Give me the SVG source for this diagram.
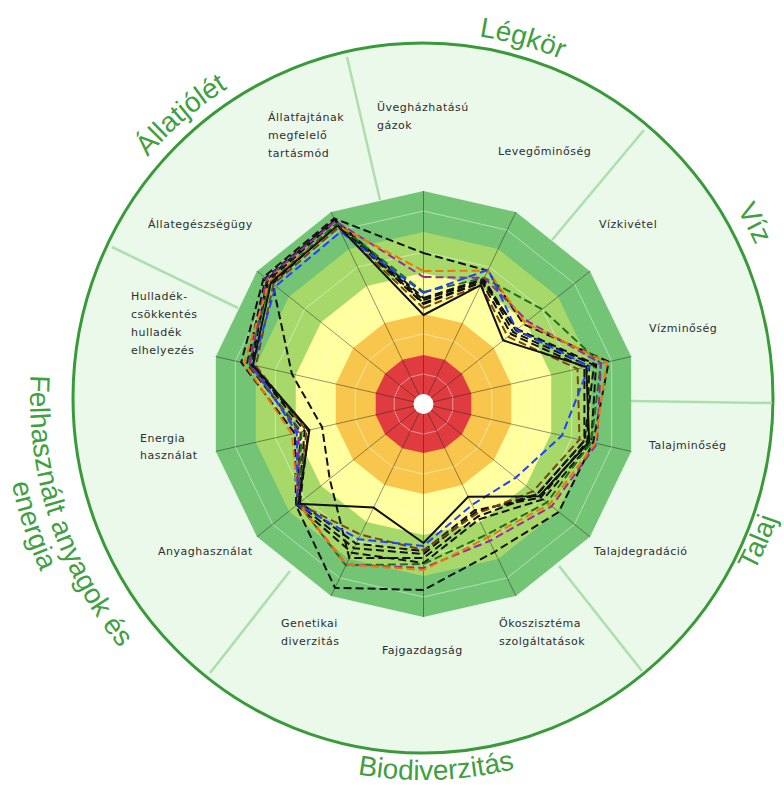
<svg xmlns="http://www.w3.org/2000/svg" width="784" height="786" viewBox="0 0 784 786">
<style>
.cat{font-family:"Liberation Sans",Arial,sans-serif;font-size:28px;fill:#3fa03f}
.lbl{font-family:"DejaVu Sans",Verdana,sans-serif;font-size:11px;fill:#2e2e2e;letter-spacing:0.5px}
.div{stroke:#addfad;stroke-width:2.5;fill:none}
.ax{stroke:#222;stroke-opacity:0.6;stroke-width:0.8;fill:none}
.grid{fill:none;stroke:#fff;stroke-opacity:0.45;stroke-width:1}
.s{fill:none;stroke-width:2;stroke-linejoin:miter}
.d{stroke-dasharray:8 4}
</style>
<defs>
<polygon id="u14" vector-effect="non-scaling-stroke" points="0,-1 0.43388,-0.90097 0.78183,-0.62349 0.97493,-0.22252 0.97493,0.22252 0.78183,0.62349 0.43388,0.90097 0,1 -0.43388,0.90097 -0.78183,0.62349 -0.97493,0.22252 -0.97493,-0.22252 -0.78183,-0.62349 -0.43388,-0.90097"/>
<path id="cw" d="M423,32 A366,366 0 1,1 423,764 A366,366 0 1,1 423,32"/>
<path id="ccw" d="M423,16 A382,382 0 1,0 423,780 A382,382 0 1,0 423,16"/>
<path id="ccwt" d="M423,24 A374,374 0 1,0 423,772 A374,374 0 1,0 423,24"/>
<path id="ccw1" d="M423,5 A393,393 0 1,0 423,791 A393,393 0 1,0 423,5"/>
<path id="ccw2" d="M423,-22 A420,420 0 1,0 423,818 A420,420 0 1,0 423,-22"/>
</defs>
<rect width="784" height="786" fill="#fff"/>
<g id="background">
<ellipse cx="423" cy="398" rx="350" ry="355" fill="#ebf9eb" stroke="#3a9a3a" stroke-width="3"/>
</g>
<g id="sector-dividers" class="div">
<line x1="347" y1="57" x2="380" y2="200"/>
<line x1="644" y1="130" x2="552" y2="240"/>
<line x1="630" y1="401" x2="772" y2="403"/>
<line x1="559" y1="566" x2="642" y2="671"/>
<line x1="290" y1="571" x2="210" y2="673"/>
<line x1="112" y1="247" x2="238" y2="308"/>
</g>
<g id="radar" transform="translate(423.5,404)">
<use href="#u14" transform="scale(213)" fill="#74c476"/>
<use href="#u14" transform="scale(172)" fill="#a6d96a"/>
<use href="#u14" transform="scale(131)" fill="#ffffa0"/>
<use href="#u14" transform="scale(90)" fill="#f8c64c"/>
<use href="#u14" transform="scale(49)" fill="#e03b3f"/>
<g class="grid">
<use href="#u14" transform="scale(193)"/>
<use href="#u14" transform="scale(152)"/>
<use href="#u14" transform="scale(111)"/>
<use href="#u14" transform="scale(70)"/>
<use href="#u14" transform="scale(30)"/>
</g>
<path class="ax" d="M0,0L0,-213M0,0L92.4,-191.9M0,0L166.5,-132.8M0,0L207.7,-47.4M0,0L207.7,47.4M0,0L166.5,132.8M0,0L92.4,191.9M0,0L0,213M0,0L-92.4,191.9M0,0L-166.5,132.8M0,0L-207.7,47.4M0,0L-207.7,-47.4M0,0L-166.5,-132.8M0,0L-92.4,-191.9"/>
<circle r="10" fill="#fff"/>
<g id="series">
<polygon class="s d" stroke="#111" points="0,-151 64.2,-133.3 100.1,-79.8 185.2,-42.3 169.6,38.7 135.3,107.9 71.2,147.8 0,186 -88.5,183.8 -127.4,101.6 -128.7,29.4 -182.3,-41.6 -159.5,-127.2 -89.4,-185.6"/>
<polygon class="s d" stroke="#111" points="0,-100 58.6,-121.6 87.6,-69.8 160.9,-36.7 160.9,36.7 113.4,90.4 54.2,112.6 0,154 -74.2,154.1 -93.8,74.8 -101.4,23.1 -131.6,-30 -150.9,-120.3 -86.8,-180.2"/>
<polygon class="s d" stroke="#111" points="0,-104 59.9,-124.3 89.9,-71.7 165.7,-37.8 163.8,37.4 117.3,93.5 51.2,106.3 0,147 -67.3,139.7 -123.5,98.5 -115,26.3 -173.5,-39.6 -154.8,-123.5 -88.1,-182.9"/>
<polygon class="s d" stroke="#111" points="0,-106 60.3,-125.2 92.3,-73.6 170.6,-38.9 160.9,36.7 113.4,90.4 52.1,108.1 0,150 -69.4,144.2 -125.1,99.8 -118.9,27.1 -171.6,-39.2 -156.4,-124.7 -88.9,-184.7"/>
<polygon class="s d" stroke="#111" points="0,-101 59,-122.5 93.8,-74.8 172.6,-39.4 167.7,38.3 119.6,95.4 55.5,115.3 0,159 -71.6,148.7 -126.7,101 -122.8,28 -176.5,-40.3 -157.9,-125.9 -88.5,-183.8"/>
<polygon class="s d" stroke="#7a4410" points="0,-96 57.3,-118.9 84.4,-67.3 154,-35.2 156,35.6 109.5,87.3 52.9,109.9 0,146 -62.9,130.6 -125.1,99.8 -117,26.7 -167.7,-38.3 -150.1,-119.7 -85,-176.6"/>
<polygon class="s d" stroke="#1e6e1e" points="0,-112 60.7,-126.1 118.8,-94.8 177.4,-40.5 167.7,38.3 123.5,98.5 62.9,130.6 0,160 -77.7,161.3 -125.1,99.8 -121.9,27.8 -175.5,-40.1 -153.2,-122.2 -86.8,-180.2"/>
<polygon class="s d" stroke="#9a2a9a" points="0,-127 60.7,-126.1 104,-82.9 177.4,-40.5 173.5,39.6 128.2,102.3 66,137 0,164 -77.2,160.4 -125.1,99.8 -124.8,28.5 -173.5,-39.6 -157.1,-125.3 -88.1,-182.9"/>
<polygon class="s d" stroke="#f07800" points="0,-133 64.2,-133.3 101.6,-81.1 183.3,-41.8 171.6,39.2 125.9,100.4 64.2,133.3 0,166 -77.2,160.4 -125.1,99.8 -131.6,30 -179.4,-40.9 -154,-122.8 -85.9,-178.4"/>
<polygon class="s d" stroke="#2040ff" points="0,-111 64.7,-134.2 93,-74.2 165.7,-37.8 138.4,31.6 92.3,73.6 48.6,100.9 0,142 -65.1,135.2 -125.9,100.4 -126.7,28.9 -170.6,-38.9 -147.8,-117.8 -82.9,-172.1"/>
<polygon class="s" stroke="#111" points="0,-89 57.3,-118.9 79.7,-63.6 162.8,-37.2 165.7,37.8 115.7,92.3 44.7,92.8 0,139 -49.9,103.6 -125.1,99.8 -114.1,26 -170.6,-38.9 -152.5,-121.6 -85.9,-178.4"/>
</g>
</g>
<g id="axis-labels" class="lbl">
<text x="377" y="111">Üvegházhatású</text><text x="377" y="129">gázok</text>
<text x="498" y="155">Levegőminőség</text>
<text x="599" y="228">Vízkivétel</text>
<text x="649" y="332">Vízminőség</text>
<text x="649" y="449">Talajminőség</text>
<text x="594" y="555">Talajdegradáció</text>
<text x="499" y="627">Ökoszisztéma</text><text x="499" y="645">szolgáltatások</text>
<text x="382" y="654">Fajgazdagság</text>
<text x="281" y="627">Genetikai</text><text x="281" y="645">diverzitás</text>
<text x="158" y="555">Anyaghasználat</text>
<text x="140" y="442">Energia</text><text x="140" y="459">használat</text>
<text x="131" y="300">Hulladék-</text><text x="131" y="318">csökkentés</text><text x="131" y="336">hulladék</text><text x="131" y="354">elhelyezés</text>
<text x="148" y="228">Állategészségügy</text>
<text x="268" y="121">Állatfajtának</text><text x="268" y="139">megfelelő</text><text x="268" y="157">tartásmód</text>
</g>
<g id="category-labels" class="cat" text-anchor="middle">
<text><textPath href="#cw" startOffset="99">Légkör</textPath></text>
<text><textPath href="#cw" startOffset="397">Víz</textPath></text>
<text><textPath href="#cw" startOffset="2040">Állatjólét</textPath></text>
<text><textPath href="#ccwt" startOffset="1610">Talaj</textPath></text>
<text><textPath href="#ccw" startOffset="1213">Biodiverzitás</textPath></text>
<text><textPath href="#ccw1" startOffset="741">Felhasznált anyagok és</textPath><textPath href="#ccw2" startOffset="792">energia</textPath></text>
</g>
</svg>
